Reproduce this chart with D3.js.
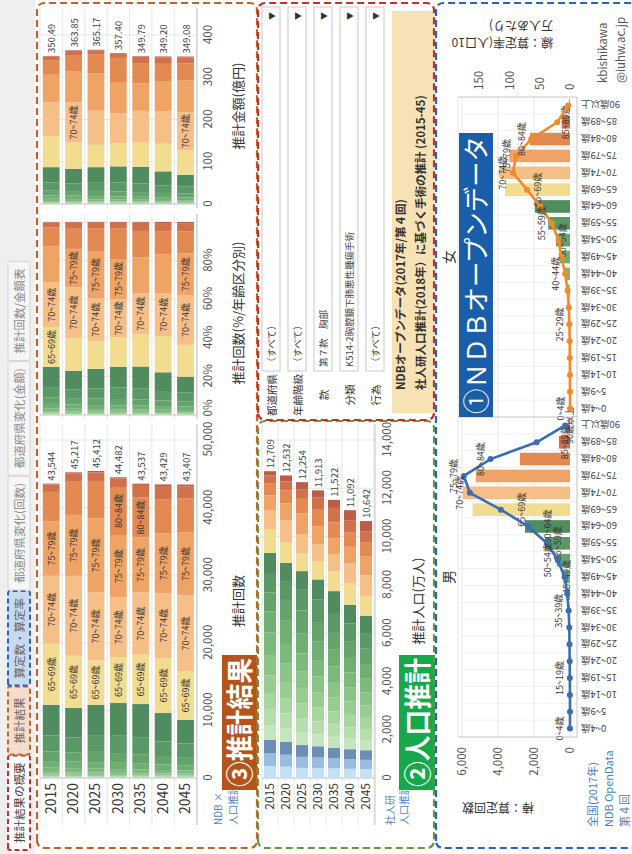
<!DOCTYPE html>
<html lang="ja">
<head>
<meta charset="utf-8">
<title>推計結果の概要</title>
<script src="https://cdn.jsdelivr.net/npm/d3@7/dist/d3.min.js"></script>
<style>
  html, body { margin: 0; padding: 0; background: #fff; }
  svg { display: block; font-family: "Noto Sans CJK JP", "Noto Sans", sans-serif; }
</style>
</head>
<body>
<svg id="dashboard" width="632" height="854"></svg>
<script>
"use strict";

// ---------- data ----------
const years = ["2015", "2020", "2025", "2030", "2035", "2040", "2045"];
const ages = ["0~4歳", "5~9歳", "10~14歳", "15~19歳", "20~24歳", "25~29歳", "30~34歳", "35~39歳",
  "40~44歳", "45~49歳", "50~54歳", "55~59歳", "60~64歳", "65~69歳", "70~74歳", "75~79歳",
  "80~84歳", "85~89歳", "90歳以上"];

// 推計回数 by age group
const cnt2015 = [33, 11, 22, 43, 65, 108, 217, 379, 650, 976, 1409, 2385, 4542, 9020, 10050, 8080, 4330, 1100, 124];
const cnt2020 = [30, 10, 20, 40, 62, 104, 200, 350, 640, 1010, 1330, 2210, 4344, 7730, 11830, 9010, 4900, 1220, 177];
const cnt2025 = [28, 10, 19, 38, 60, 100, 195, 330, 600, 960, 1520, 2380, 4600, 6550, 10050, 10980, 5520, 1280, 192];
const cnt2030 = [26, 9, 18, 36, 57, 96, 188, 320, 560, 930, 1450, 2650, 4750, 6800, 8810, 9250, 7100, 1240, 192];
const cnt2035 = [25, 9, 17, 34, 54, 92, 180, 305, 540, 860, 1400, 2520, 4904, 7290, 9210, 8130, 5950, 1830, 187];
const cnt2040 = [24, 8, 16, 32, 50, 86, 170, 290, 510, 820, 1250, 2150, 4204, 8130, 9600, 8860, 5050, 1940, 239];
const cnt2045 = [23, 8, 15, 30, 47, 80, 160, 275, 480, 780, 1200, 2010, 3512, 7150, 11230, 9310, 5030, 1800, 267];

// 推計金額(億円): [0~64歳, 65~69, 70~74, 75~79, 80~84, 85~89, 90以上]
const amt2015 = [87.2, 72.6, 80.9, 65.0, 34.8, 8.9, 1.09];
const amt2020 = [83.3, 62.2, 95.2, 72.5, 39.4, 9.8, 1.45];
const amt2025 = [87.2, 52.7, 80.8, 88.3, 44.4, 10.3, 1.47];
const amt2030 = [89.1, 54.6, 70.8, 74.3, 57.0, 10.0, 1.6];
const amt2035 = [87.9, 58.6, 74.0, 65.3, 47.8, 14.7, 1.49];
const amt2040 = [77.3, 65.4, 77.2, 71.2, 40.6, 15.6, 1.9];
const amt2045 = [69.3, 57.5, 90.3, 74.9, 40.5, 14.5, 2.08];

// 推計人口(万人)
const pop2015 = [498, 531, 560, 603, 633, 663, 754, 819, 963, 869, 796, 763, 867, 981, 776, 634, 503, 319, 177];
const pop2020 = [466, 497, 530, 561, 618, 640, 668, 755, 818, 958, 863, 788, 749, 839, 927, 702, 535, 373, 245];
const pop2025 = [420, 455, 490, 531, 568, 620, 646, 674, 760, 820, 954, 856, 775, 729, 801, 858, 607, 400, 290];
const pop2030 = [417, 433, 465, 497, 538, 578, 626, 651, 678, 762, 816, 944, 820, 755, 700, 743, 720, 470, 300];
const pop2035 = [395, 413, 433, 465, 506, 548, 584, 631, 655, 680, 736, 789, 905, 818, 722, 650, 657, 600, 335];
const pop2040 = [381, 399, 413, 434, 474, 516, 554, 589, 615, 637, 658, 734, 775, 897, 805, 695, 588, 515, 413];
const pop2045 = [367, 385, 399, 414, 443, 484, 506, 540, 570, 615, 630, 650, 720, 790, 885, 770, 610, 442, 422];

// NDB open data 2017: 算定回数 (bars) and 算定率 per 100k (line)
const maleCount = [5, 0, 2, 10, 20, 30, 50, 100, 200, 370, 740, 1390, 2500, 5410, 5960, 5240, 2780, 611, 90];
const femaleCount = [0, 0, 3, 10, 15, 30, 60, 150, 280, 555, 780, 1210, 1950, 3610, 3930, 3370, 2220, 460, 40];
const maleRate = [0.1, 0, 0.1, 0.3, 0.5, 0.8, 1.2, 2.2, 4.5, 9, 20, 38, 69, 114, 165, 175, 131, 55, 8];
const femaleRate = [0, 0, 0.1, 0.3, 0.5, 1, 2, 4, 8, 14, 19, 30, 49, 71, 94, 89, 64, 21, 3];

// labels that the dashboard shows
const cntLabels = [
  ["65~69歳", "70~74歳", "75~79歳"], ["65~69歳", "70~74歳", "75~79歳"], ["65~69歳", "70~74歳", "75~79歳"],
  ["65~69歳", "70~74歳", "75~79歳", "80~84歳"], ["65~69歳", "70~74歳", "75~79歳", "80~84歳"],
  ["65~69歳", "70~74歳", "75~79歳"], ["65~69歳", "70~74歳", "75~79歳"]];
const pctLabels = [["65~69歳", "70~74歳"], ["70~74歳", "75~79歳"], ["70~74歳", "75~79歳"],
  ["70~74歳", "75~79歳"], ["70~74歳"], ["70~74歳"], ["70~74歳", "75~79歳"]];
const amtLabels = [[], ["70~74歳"], [], [], [], [], ["70~74歳"]];
const maleBarLabels = ["45~49歳", "55~59歳", "60~64歳", "65~69歳", "85~89歳", "90歳以上"];
const maleLineLabels = ["0~4歳", "15~19歳", "35~39歳", "50~54歳", "70~74歳", "75~79歳", "80~84歳"];
const femaleBarLabels = ["50~54歳", "65~69歳", "85~89歳"];
const femaleLineLabels = ["0~4歳", "25~29歳", "40~44歳", "55~59歳", "70~74歳", "75~79歳", "80~84歳"];

const tabNames = ["推計結果の概要", "推計結果", "算定数・算定率", "都道府県変化(回数)", "都道府県変化(金額)", "推計回数/金額表"];
const filterNames = ["都道府県", "年齢階級", "款", "分類", "行為"];
const filterValues = ["（すべて）", "（すべて）", "第７款　胸部", "K514-2胸腔鏡下肺悪性腫瘍手術", "（すべて）"];

// ---------- styles ----------
const ageColors = ["#c4e1f4", "#98bde0", "#6b8db6",
  "#c6e5bd", "#b7ddae", "#a8d5a0", "#99cc93", "#8bc387", "#7db97d", "#70ae74", "#64a36c", "#5a9866", "#508c60",
  "#f2dc8f", "#f5bf87", "#efa365", "#e38a53", "#d1714b", "#bc5c49"];
const tabStyles = [
  { fill: "#ffffff", stroke: "#c8302c", dash: "5,3", text: "#444" },
  { fill: "#f6dccb", stroke: "#c8682c", dash: "5,3", text: "#666" },
  { fill: "#c6daf1", stroke: "#2a62c0", dash: "5,3", text: "#666" }];
const tabPlain = { fill: "#f6f6f6", stroke: "#d4d4d4", dash: null, text: "#888" };
const gridColor = "#e6e6e6", axisColor = "#c4c4c4";

const fmt = d3.format(",");
const fmt2 = d3.format(".2f");

// ---------- tables built from the arrays ----------
const cntRows = [cnt2015, cnt2020, cnt2025, cnt2030, cnt2035, cnt2040, cnt2045];
const amtRows = [amt2015, amt2020, amt2025, amt2030, amt2035, amt2040, amt2045];
const popRows = [pop2015, pop2020, pop2025, pop2030, pop2035, pop2040, pop2045];

// 0~64 amount shaded by the count split inside that block
function amountByAge(amt, cnt) {
  const young = d3.sum(cnt.slice(0, 13));
  return cnt.slice(0, 13).map(v => amt[0] * v / young).concat(amt.slice(1));
}
function stack(values) {
  let acc = 0;
  return values.map((v, i) => { const s = { i, x0: acc, x1: acc + v }; acc += v; return s; });
}

// ---------- canvas: dashboard is laid out landscape and turned ----------
const root = d3.select("#dashboard").append("g")
  .attr("transform", "translate(0,854) rotate(-90)");
root.append("rect").attr("width", 854).attr("height", 632).attr("fill", "#fff");

// tab strip
root.append("rect").attr("width", 854).attr("height", 35).attr("fill", "#efefef");
let tabX = 4;
tabNames.forEach((name, i) => {
  const st = tabStyles[i] || tabPlain;
  const tg = root.append("g");
  const r = tg.append("rect").attr("y", 8).attr("height", 22).attr("rx", 2)
    .attr("fill", st.fill).attr("stroke", st.stroke)
    .attr("stroke-width", st.dash ? 2 : 1).attr("stroke-dasharray", st.dash);
  const t = tg.append("text").attr("y", 23.5).attr("font-size", 11.5).attr("fill", st.text)
    .attr("text-anchor", "middle").text(name);
  const w = Math.max(68, t.node().getComputedTextLength() + 14);
  r.attr("x", tabX).attr("width", w);
  t.attr("x", tabX + w / 2);
  tabX += w + 1;
});

// ---------- ③ 推計結果 ----------
const g3 = root.append("g");
const yearY = d3.scaleBand().domain(years).range([40, 196.7]).paddingInner(0.25).paddingOuter(0.125);
const cntX = d3.scaleLinear().domain([0, 50000]).range([76, 414]);
const pctX = d3.scaleLinear().domain([0, 1]).range([439, 632]);
const amtX = d3.scaleLinear().domain([0, 400]).range([650, 819]);

function paneFrame(g, band, x, ticks, x0, x1, yTop, yBot) {
  g.append("g").selectAll("line").data(ticks.filter(t => t > 0)).join("line")
    .attr("x1", d => x(d)).attr("x2", d => x(d)).attr("y1", yTop).attr("y2", yBot)
    .attr("stroke", gridColor);
  const step = band.step();
  g.append("g").selectAll("line").data(d3.range(band.domain().length + 1)).join("line")
    .attr("x1", x0).attr("x2", x1)
    .attr("y1", k => band.range()[0] + k * step).attr("y2", k => band.range()[0] + k * step)
    .attr("stroke", gridColor);
  g.append("line").attr("x1", x(0)).attr("x2", x(0)).attr("y1", yTop).attr("y2", yBot).attr("stroke", axisColor);
  g.append("line").attr("x1", x0).attr("x2", x1).attr("y1", yBot).attr("y2", yBot).attr("stroke", axisColor);
}

function drawStacks(g, band, x, rows, labelSets, totalFmt) {
  rows.forEach((vals, r) => {
    const yr = years[r];
    const segs = stack(vals);
    const rg = g.append("g");
    rg.selectAll("rect").data(segs).join("rect")
      .attr("x", d => x(d.x0)).attr("width", d => Math.max(0, x(d.x1) - x(d.x0)))
      .attr("y", band(yr)).attr("height", band.bandwidth())
      .attr("fill", d => ageColors[d.i]);
    if (labelSets) {
      rg.selectAll("text.seg").data(segs.filter(d => labelSets[r].includes(ages[d.i]))).join("text")
        .attr("class", "seg")
        .attr("x", d => (x(d.x0) + x(d.x1)) / 2).attr("y", band(yr) + band.bandwidth() / 2)
        .attr("text-anchor", "middle").attr("dominant-baseline", "central")
        .attr("font-size", 9).attr("fill", "#333").text(d => ages[d.i]);
    }
    if (totalFmt) {
      const tot = d3.sum(vals);
      rg.append("text").attr("x", x(tot) + 3).attr("y", band(yr) + band.bandwidth() / 2)
        .attr("dominant-baseline", "central").attr("font-size", 9.5).attr("fill", "#444")
        .text(totalFmt(tot));
    }
  });
}

function bottomAxis(g, x, ticks, format, y) {
  return g.append("g").attr("transform", `translate(0,${y})`)
    .call(d3.axisBottom(x).tickValues(ticks).tickFormat(format).tickSize(0).tickPadding(3))
    .call(a => a.select(".domain").remove())
    .call(a => a.selectAll("text").attr("font-size", 11.5).attr("fill", "#555")
      .style("font-family", "'Noto Sans CJK JP', sans-serif"));
}

const cntTicks = [0, 10000, 20000, 30000, 40000, 50000];
const pctTicks = [0, 0.2, 0.4, 0.6, 0.8];
const amtTicks = [0, 100, 200, 300, 400];

paneFrame(g3, yearY, cntX, cntTicks, 29, 430, 40, 197);
paneFrame(g3, yearY, pctX, pctTicks.concat([1]), 435, 640, 40, 197);
paneFrame(g3, yearY, amtX, amtTicks, 646, 846, 40, 197);

drawStacks(g3, yearY, cntX, cntRows, cntLabels, fmt);
drawStacks(g3, yearY, pctX, cntRows.map(v => { const t = d3.sum(v); return v.map(d => d / t); }), pctLabels, null);
drawStacks(g3, yearY, amtX, amtRows.map((a, r) => amountByAge(a, cntRows[r])), amtLabels, fmt2);

// edge tick labels are nudged inward so the two panes do not collide
bottomAxis(g3, cntX, cntTicks, fmt, 201)
  .selectAll(".tick text").filter(d => d === 50000).attr("text-anchor", "end").attr("dx", 18);
bottomAxis(g3, pctX, pctTicks, d3.format(".0%"), 201)
  .selectAll(".tick text").filter(d => d === 0).attr("text-anchor", "start").attr("dx", -2);
bottomAxis(g3, amtX, amtTicks, d3.format("d"), 201);

g3.append("g").attr("transform", "translate(74,0)")
  .call(d3.axisLeft(yearY).tickSize(0).tickPadding(3))
  .call(a => a.select(".domain").remove())
  .call(a => a.selectAll("text").attr("font-size", 14).attr("fill", "#333")
    .style("font-family", "'Noto Sans CJK JP', sans-serif"));

[["推計回数", 253], ["推計回数(%/年齢区分別)", 541], ["推計金額(億円)", 748]].forEach(([t, cx]) => {
  g3.append("text").attr("x", cx).attr("y", 243).attr("text-anchor", "middle")
    .attr("font-size", 13).attr("fill", "#333").text(t);
});
g3.append("text").attr("x", 29).attr("y", 222).attr("font-size", 10).attr("fill", "#4a7fc0").text("NDB ×");
g3.append("text").attr("x", 29).attr("y", 237).attr("font-size", 10).attr("fill", "#4a7fc0").text("人口推計");
g3.append("rect").attr("x", 64).attr("y", 222).attr("width", 135).attr("height", 35).attr("fill", "#b5541a");
g3.append("text").attr("x", 67).attr("y", 250).attr("font-size", 27).attr("font-weight", 600)
  .attr("fill", "#fff").attr("textLength", 129).attr("lengthAdjust", "spacingAndGlyphs").text("③推計結果");

// ---------- ② 人口推計 ----------
const g2 = root.append("g");
const popY = d3.scaleBand().domain(years).range([262, 374]).paddingInner(0.25).paddingOuter(0.125);
const popX = d3.scaleLinear().domain([0, 14000]).range([76, 414]);
const popTicks = d3.range(0, 14001, 2000);
paneFrame(g2, popY, popX, popTicks, 29, 430, 262, 375);
drawStacks(g2, popY, popX, popRows, null, fmt);
bottomAxis(g2, popX, popTicks, fmt, 380);
g2.append("g").attr("transform", "translate(74,0)")
  .call(d3.axisLeft(popY).tickSize(0).tickPadding(3))
  .call(a => a.select(".domain").remove())
  .call(a => a.selectAll("text").attr("font-size", 12).attr("fill", "#333")
    .style("font-family", "'Noto Sans CJK JP', sans-serif"));
g2.append("text").attr("x", 253).attr("y", 423).attr("text-anchor", "middle")
  .attr("font-size", 13).attr("fill", "#333").text("推計人口(万人)");
g2.append("text").attr("x", 29).attr("y", 394).attr("font-size", 10).attr("fill", "#4a7fc0").text("社人研");
g2.append("text").attr("x", 29).attr("y", 408).attr("font-size", 10).attr("fill", "#4a7fc0").text("人口推計");
g2.append("rect").attr("x", 64).attr("y", 399).attr("width", 135).attr("height", 36).attr("fill", "#17a84b");
g2.append("text").attr("x", 67).attr("y", 428).attr("font-size", 27).attr("font-weight", 600)
  .attr("fill", "#fff").attr("textLength", 129).attr("lengthAdjust", "spacingAndGlyphs").text("②人口推計");

// ---------- filters ----------
const gf = root.append("g");
filterNames.forEach((name, k) => {
  const top = 262 + k * 26;
  gf.append("text").attr("x", 459).attr("y", top + 9).attr("text-anchor", "middle")
    .attr("dominant-baseline", "central").attr("font-size", 10.5).attr("fill", "#333").text(name);
  gf.append("rect").attr("x", 483).attr("y", top).attr("width", 364).attr("height", 18)
    .attr("fill", "#fff").attr("stroke", "#c9c9c9");
  gf.append("text").attr("x", 487).attr("y", top + 9).attr("dominant-baseline", "central")
    .attr("font-size", 9.5).attr("fill", "#444").text(filterValues[k]);
  gf.append("text").attr("x", 838).attr("y", top + 9).attr("dominant-baseline", "central")
    .attr("text-anchor", "middle").attr("font-size", 8).attr("fill", "#333").text("▼");
});
gf.append("rect").attr("x", 441).attr("y", 392).attr("width", 402).attr("height", 42).attr("fill", "#f6e2b4");
gf.append("text").attr("x", 464).attr("y", 405).attr("font-size", 11.5).attr("font-weight", 700)
  .attr("fill", "#333").text("NDBオープンデータ(2017年/第４回)");
gf.append("text").attr("x", 464).attr("y", 425).attr("font-size", 11.5).attr("font-weight", 700)
  .attr("fill", "#333").text("社人研人口推計(2018年）に基づく手術の推計 (2015-45)");

// ---------- ① NDBオープンデータ ----------
const g1 = root.append("g");
const paneTop = 458, paneBot = 577;
const cntY = d3.scaleLinear().domain([0, 6000]).range([570, 462]);
const rateY = d3.scaleLinear().domain([0, 150]).range([570, 479]);
const sexes = [
  { name: "男", counts: maleCount, rates: maleRate, range: [117, 437], line: "#3b6db3",
    barLabels: maleBarLabels, lineLabels: maleLineLabels },
  { name: "女", counts: femaleCount, rates: femaleRate, range: [437, 757], line: "#f28a2a",
    barLabels: femaleBarLabels, lineLabels: femaleLineLabels }];

g1.append("g").selectAll("line").data([2000, 4000, 6000]).join("line")
  .attr("x1", 117).attr("x2", 757).attr("y1", d => cntY(d)).attr("y2", d => cntY(d)).attr("stroke", gridColor);
g1.append("line").attr("x1", 117).attr("x2", 757).attr("y1", paneTop).attr("y2", paneTop).attr("stroke", gridColor);

sexes.forEach(s => {
  const x = d3.scaleBand().domain(ages).range(s.range).paddingInner(0.25).paddingOuter(0.125);
  const cx = a => x(a) + x.bandwidth() / 2;
  const g = g1.append("g");
  g.selectAll("line.sep").data(d3.range(1, ages.length)).join("line").attr("class", "sep")
    .attr("x1", k => s.range[0] + k * x.step()).attr("x2", k => s.range[0] + k * x.step())
    .attr("y1", paneTop).attr("y2", paneBot).attr("stroke", "#f0f0f0");
  g.selectAll("rect").data(ages).join("rect")
    .attr("x", a => x(a)).attr("width", x.bandwidth())
    .attr("y", (a, i) => cntY(s.counts[i])).attr("height", (a, i) => cntY(0) - cntY(s.counts[i]))
    .attr("fill", (a, i) => ageColors[i]);
  g.selectAll("text.bl").data(s.barLabels).join("text").attr("class", "bl")
    .attr("x", a => cx(a)).attr("y", a => (cntY(s.counts[ages.indexOf(a)]) + cntY(0)) / 2)
    .attr("text-anchor", "middle").attr("dominant-baseline", "central")
    .attr("font-size", 9).attr("fill", "#333").text(a => a);
  const line = d3.line().x((d, i) => cx(ages[i])).y(d => rateY(d));
  g.append("path").datum(s.rates).attr("d", line).attr("fill", "none")
    .attr("stroke", s.line).attr("stroke-width", 2.6).attr("stroke-linejoin", "round");
  g.selectAll("circle").data(s.rates).join("circle")
    .attr("cx", (d, i) => cx(ages[i])).attr("cy", d => rateY(d)).attr("r", 3).attr("fill", s.line);
  g.selectAll("text.ll").data(s.lineLabels).join("text").attr("class", "ll")
    .attr("x", a => cx(a)).attr("y", a => rateY(s.rates[ages.indexOf(a)]) - 10)
    .attr("text-anchor", "middle").attr("dominant-baseline", "central")
    .attr("font-size", 9).attr("fill", "#333").text(a => a);
  g.selectAll("text.age").data(ages).join("text").attr("class", "age")
    .attr("transform", a => `translate(${cx(a)},581) rotate(-90)`)
    .attr("text-anchor", "end").attr("dominant-baseline", "central")
    .attr("font-size", 9.5).attr("fill", "#444").text(a => a);
  g.append("text").attr("x", (s.range[0] + s.range[1]) / 2).attr("y", 448)
    .attr("text-anchor", "middle").attr("dominant-baseline", "central")
    .attr("font-size", 14).attr("fill", "#333").text(s.name);
});
[117, 437, 757].forEach(v => g1.append("line").attr("x1", v).attr("x2", v)
  .attr("y1", paneTop).attr("y2", paneBot).attr("stroke", axisColor));
g1.append("line").attr("x1", 117).attr("x2", 757).attr("y1", paneBot).attr("y2", paneBot).attr("stroke", axisColor);

g1.append("g").attr("transform", "translate(110,0)")
  .call(d3.axisLeft(cntY).tickValues([0, 2000, 4000, 6000]).tickFormat(fmt).tickSize(0).tickPadding(3))
  .call(a => a.select(".domain").remove())
  .call(a => a.selectAll("text").attr("font-size", 11.5).attr("fill", "#555")
    .style("font-family", "'Noto Sans CJK JP', sans-serif"));
g1.append("g").attr("transform", "translate(760,0)")
  .call(d3.axisRight(rateY).tickValues([0, 50, 100, 150]).tickSize(0).tickPadding(4))
  .call(a => a.select(".domain").remove())
  .call(a => a.selectAll("text").attr("font-size", 11.5).attr("fill", "#555")
    .style("font-family", "'Noto Sans CJK JP', sans-serif"));
g1.append("text").attr("transform", "translate(46,498) rotate(-90)").attr("text-anchor", "middle")
  .attr("dominant-baseline", "central").attr("font-size", 12).attr("fill", "#333").text("棒：算定回数");
g1.append("text").attr("transform", "translate(811,553) rotate(-90)")
  .attr("dominant-baseline", "central").attr("font-size", 12).attr("fill", "#333").text("線：算定率(人口10");
g1.append("text").attr("transform", "translate(828,553) rotate(-90)")
  .attr("dominant-baseline", "central").attr("font-size", 12).attr("fill", "#333").text("万人あたり)");

["全国(2017年)", "NDB OpenData", "第４回"].forEach((t, k) => {
  g1.append("text").attr("x", 27).attr("y", 597 + k * 16).attr("font-size", 11)
    .attr("fill", "#4a7fc0").text(t);
});
["kbishikawa", "@iuhw.ac.jp"].forEach((t, k) => {
  g1.append("text").attr("x", 771).attr("y", 607 + k * 18).attr("font-size", 11.5)
    .attr("fill", "#555").text(t);
});
g1.append("rect").attr("x", 437).attr("y", 459).attr("width", 284).attr("height", 34).attr("fill", "#1a5ea9");
g1.append("text").attr("x", 440).attr("y", 486).attr("font-size", 26).attr("fill", "#fff")
  .attr("textLength", 278).attr("lengthAdjust", "spacingAndGlyphs").text("①ＮＤＢオープンデータ");

// ---------- panel outlines ----------
const outlines = [
  { x: 6, y: 37, w: 845, h: 220, c: "#c0622a" },
  { x: 6, y: 258, w: 427, h: 176, c: "#5f9a3e" },
  { x: 434, y: 258, w: 417, h: 176, c: "#c8302c" },
  { x: 6, y: 436, w: 845, h: 205, c: "#2a62c0" }];
root.append("g").selectAll("rect").data(outlines).join("rect")
  .attr("x", d => d.x).attr("y", d => d.y).attr("width", d => d.w).attr("height", d => d.h)
  .attr("rx", 7).attr("fill", "none").attr("stroke", d => d.c)
  .attr("stroke-width", 2.2).attr("stroke-dasharray", "7,4");
</script>
</body>
</html>
